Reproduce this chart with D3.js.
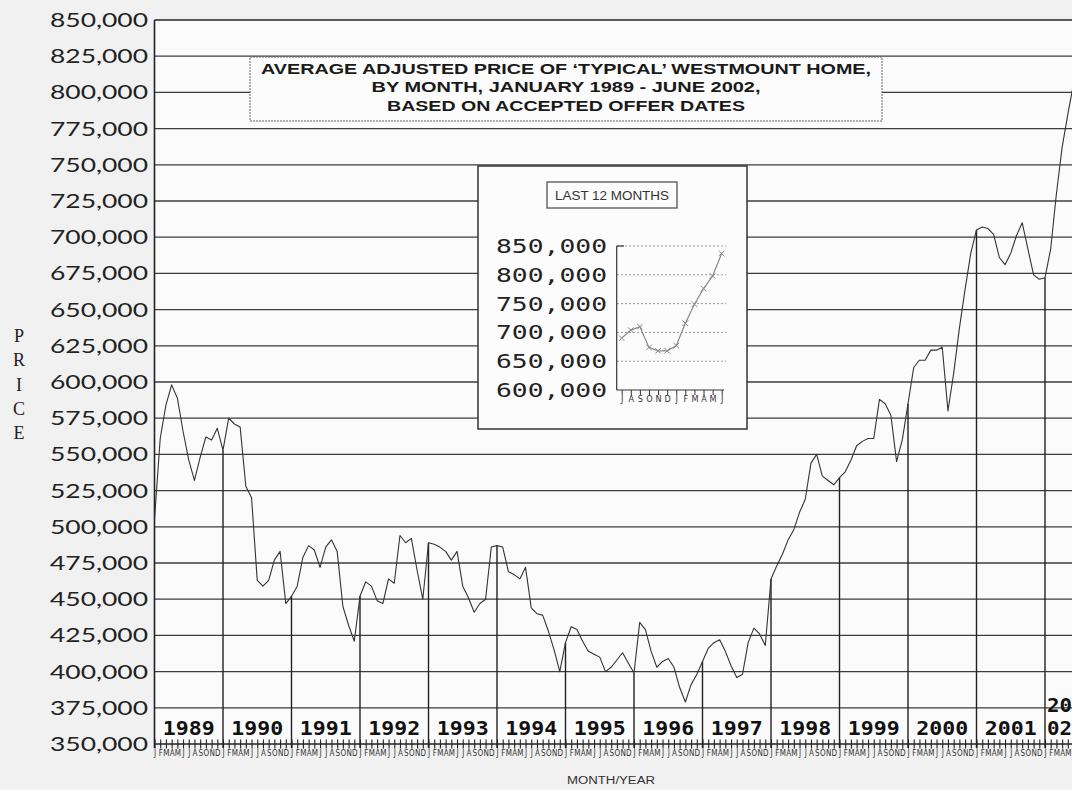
<!DOCTYPE html>
<html>
<head>
<meta charset="utf-8">
<script src="https://cdn.jsdelivr.net/npm/d3@7"></script>
<style>
html, body { margin: 0; padding: 0; background: #f1f1f1; }
svg { display: block; }
</style>
</head>
<body>
<div id="chart"></div>
<script>
var width = 1072,
    height = 790;

// month initials under the bottom axis
var monthInitials = ["J","F","M","A","M","J","J","A","S","O","N","D"];

// price gridlines / labels
var priceTicks = [350000, 375000, 400000, 425000, 450000, 475000, 500000, 525000, 550000,
                  575000, 600000, 625000, 650000, 675000, 700000, 725000, 750000, 775000,
                  800000, 825000, 850000];

var yearLabels = ["1989","1990","1991","1992","1993","1994","1995","1996","1997",
                  "1998","1999","2000","2001"];

// monthly adjusted price, Jan 1989 - Jun 2002
var prices = [
  505000, 561000, 584000, 598000, 589000, 566000, 546000, 532000, 548000, 562000, 560000, 568000, // 1989
  553000, 575000, 571000, 569000, 528000, 520000, 463000, 459000, 463000, 477000, 483000, 447000, // 1990
  452000, 459000, 479000, 487000, 484000, 472000, 486000, 491000, 483000, 445000, 432000, 421000, // 1991
  452000, 462000, 459000, 449000, 447000, 464000, 461000, 494000, 489000, 492000, 470000, 450000, // 1992
  489000, 488000, 486000, 483000, 477000, 483000, 459000, 451000, 441000, 447000, 450000, 486000, // 1993
  487000, 486000, 469000, 467000, 464000, 472000, 444000, 440000, 439000, 428000, 415000, 400000, // 1994
  420000, 431000, 429000, 421000, 414000, 412000, 410000, 400000, 403000, 408000, 413000, 406000, // 1995
  399000, 434000, 429000, 414000, 403000, 407000, 409000, 403000, 389000, 379000, 391000, 398000, // 1996
  407000, 416000, 420000, 422000, 414000, 404000, 396000, 398000, 420000, 430000, 426000, 418000, // 1997
  464000, 473000, 481000, 491000, 498000, 510000, 519000, 544000, 550000, 535000, 532000, 529000, // 1998
  534000, 538000, 546000, 556000, 559000, 561000, 561000, 588000, 585000, 577000, 545000, 560000, // 1999
  585000, 610000, 615000, 615000, 622000, 622000, 624000, 580000, 606000, 637000, 664000, 689000, // 2000
  705000, 707000, 706000, 702000, 686000, 681000, 689000, 701000, 710000, 692000, 674000, 671000, // 2001
  672000, 692000, 730000, 762000, 785000, 806000                                                  // 2002
];

// inset: last 12 months (Jul 2001 - Jun 2002)
var insetMonths = ["J","A","S","O","N","D","J","F","M","A","M","J"];
var insetPrices = [690000, 704000, 710000, 674000, 668000, 668000, 677000, 716000, 749000, 776000, 798000, 837000];
var insetTicks = [600000, 650000, 700000, 750000, 800000, 850000];

var titleLines = ["AVERAGE ADJUSTED PRICE OF \u2018TYPICAL\u2019 WESTMOUNT HOME,",
                  "BY MONTH, JANUARY 1989 - JUNE 2002,",
                  "BASED ON ACCEPTED OFFER DATES"];

var svg = d3.select("#chart").append("svg")
    .attr("width", width)
    .attr("height", height);

var plotLeft = 154.5, plotRight = 1090, plotTop = 20, plotBottom = 744;

var x = d3.scaleLinear().domain([0, 156]).range([plotLeft, 1045]);
var y = d3.scaleLinear().domain([350000, 850000]).range([plotBottom, plotTop]);

// plot background
svg.append("rect")
    .attr("x", plotLeft).attr("y", plotTop)
    .attr("width", plotRight - plotLeft).attr("height", plotBottom - plotTop)
    .attr("fill", "#fbfbfb");

// horizontal gridlines
svg.append("g").selectAll("line")
    .data(priceTicks.slice(1, -1))
  .enter().append("line")
    .attr("x1", plotLeft).attr("x2", plotRight)
    .attr("y1", d => y(d)).attr("y2", d => y(d))
    .attr("stroke", "#3c3c3c")
    .attr("stroke-width", 1.3);

// top border and left border
svg.append("line")
    .attr("x1", plotLeft).attr("x2", plotRight)
    .attr("y1", y(850000)).attr("y2", y(850000))
    .attr("stroke", "#222").attr("stroke-width", 1.6);
svg.append("line")
    .attr("x1", plotLeft).attr("x2", plotLeft)
    .attr("y1", plotTop).attr("y2", plotBottom + 4)
    .attr("stroke", "#222").attr("stroke-width", 1.6);

// y labels
svg.append("g").selectAll("text")
    .data(priceTicks)
  .enter().append("text")
    .attr("x", 148)
    .attr("y", d => y(d) + 7)
    .attr("text-anchor", "end")
    .attr("textLength", 98)
    .attr("lengthAdjust", "spacingAndGlyphs")
    .style("font-family", "Lato, 'Open Sans', sans-serif")
    .style("font-size", "20px")
    .style("fill", "#222")
    .text(d => d3.format(",")(d));

// PRICE written down the side
svg.append("g").selectAll("text")
    .data("PRICE".split(""))
  .enter().append("text")
    .attr("x", 19)
    .attr("y", (d, i) => 342 + i * 24.3)
    .attr("text-anchor", "middle")
    .style("font-family", "'Liberation Serif', 'DejaVu Serif', serif")
    .style("font-size", "18px")
    .style("fill", "#222")
    .text(d => d);

// bottom axis with a tick for every month
var xAxis = d3.axisBottom(x)
    .tickValues(d3.range(0, prices.length))
    .tickSizeInner(9)
    .tickSizeOuter(0)
    .tickPadding(2)
    .tickFormat(i => x(i) < width - 3 ? monthInitials[i % 12] : "");

var gx = svg.append("g")
    .attr("transform", "translate(0," + (plotBottom - 4.5) + ")")
    .call(xAxis);
gx.select(".domain").remove();
gx.selectAll(".tick line").attr("stroke", "#222").attr("stroke-width", 1.1);
gx.selectAll(".tick text")
    .style("font-family", "'DejaVu Sans Condensed', 'DejaVu Sans', sans-serif")
    .style("font-size", "8px")
    .style("fill", "#333");

svg.append("line")
    .attr("x1", plotLeft).attr("x2", plotRight)
    .attr("y1", plotBottom).attr("y2", plotBottom)
    .attr("stroke", "#222").attr("stroke-width", 1.4);

// drop lines at each January
var januaries = d3.range(12, prices.length, 12);
svg.append("g").selectAll("line")
    .data(januaries)
  .enter().append("line")
    .attr("x1", i => x(i)).attr("x2", i => x(i))
    .attr("y1", plotBottom + 4).attr("y2", i => y(prices[i]))
    .attr("stroke", "#222")
    .attr("stroke-width", 1.4);

// year labels
svg.append("g").selectAll("text")
    .data(yearLabels)
  .enter().append("text")
    .attr("x", (d, k) => x(k * 12 + 6))
    .attr("y", 735)
    .attr("text-anchor", "middle")
    .attr("textLength", 52)
    .attr("lengthAdjust", "spacingAndGlyphs")
    .style("font-family", "'DejaVu Sans Mono', monospace")
    .style("font-weight", "bold")
    .style("font-size", "20px")
    .style("fill", "#111")
    .text(d => d);

var lastYear = svg.append("g")
    .style("font-family", "'DejaVu Sans Mono', monospace")
    .style("font-weight", "bold")
    .style("font-size", "20px")
    .style("fill", "#111");
lastYear.append("text")
    .attr("x", x(156) + 2).attr("y", 712)
    .attr("textLength", 25).attr("lengthAdjust", "spacingAndGlyphs")
    .text("20");
lastYear.append("text")
    .attr("x", x(156) + 2).attr("y", 735)
    .attr("textLength", 25).attr("lengthAdjust", "spacingAndGlyphs")
    .text("02");

// the price line
svg.append("clipPath").attr("id", "plotclip")
  .append("rect")
    .attr("x", plotLeft).attr("y", plotTop)
    .attr("width", plotRight - plotLeft).attr("height", plotBottom - plotTop);

var line = d3.line()
    .x((d, i) => x(i))
    .y(d => y(d));

svg.append("path")
    .datum(prices)
    .attr("clip-path", "url(#plotclip)")
    .attr("fill", "none")
    .attr("stroke", "#333")
    .attr("stroke-width", 1.1)
    .attr("stroke-linejoin", "round")
    .attr("d", line);

// title box
svg.append("rect")
    .attr("x", 250).attr("y", 57)
    .attr("width", 632).attr("height", 64)
    .attr("fill", "#fcfcfc")
    .attr("stroke", "#666")
    .attr("stroke-dasharray", "2,1")
    .attr("stroke-width", 1);

var titleLengths = [610, 389, 358];
svg.append("g").selectAll("text")
    .data(titleLines)
  .enter().append("text")
    .attr("x", 566)
    .attr("y", (d, i) => [74, 92, 111][i])
    .attr("text-anchor", "middle")
    .attr("textLength", (d, i) => titleLengths[i])
    .attr("lengthAdjust", "spacingAndGlyphs")
    .style("font-family", "'Liberation Sans', Arial, sans-serif")
    .style("font-weight", "bold")
    .style("font-size", "15px")
    .style("fill", "#1a1a1a")
    .text(d => d);

// inset chart
var inset = svg.append("g");
inset.append("rect")
    .attr("x", 478).attr("y", 166)
    .attr("width", 269).attr("height", 263)
    .attr("fill", "#fcfcfc")
    .attr("stroke", "#333")
    .attr("stroke-width", 1.5);
inset.append("rect")
    .attr("x", 547).attr("y", 182)
    .attr("width", 130).attr("height", 26)
    .attr("fill", "none")
    .attr("stroke", "#444")
    .attr("stroke-width", 1.2);
inset.append("text")
    .attr("x", 612).attr("y", 200)
    .attr("text-anchor", "middle")
    .attr("textLength", 114)
    .attr("lengthAdjust", "spacingAndGlyphs")
    .style("font-family", "'Liberation Sans', Arial, sans-serif")
    .style("font-size", "12px")
    .style("fill", "#333")
    .text("LAST 12 MONTHS");

var ix = d3.scaleLinear().domain([0, 11]).range([621.7, 721.7]);
var iy = d3.scaleLinear().domain([600000, 850000]).range([390, 246]);

inset.append("g").selectAll("line")
    .data(insetTicks.slice(1))
  .enter().append("line")
    .attr("x1", 617).attr("x2", 726)
    .attr("y1", d => iy(d)).attr("y2", d => iy(d))
    .attr("stroke", "#999")
    .attr("stroke-dasharray", "2,2")
    .attr("stroke-width", 1);

inset.append("line")
    .attr("x1", 616.7).attr("x2", 616.7)
    .attr("y1", iy(850000)).attr("y2", iy(600000))
    .attr("stroke", "#333").attr("stroke-width", 1.2);
inset.append("line")
    .attr("x1", 616.7).attr("x2", 624)
    .attr("y1", iy(850000)).attr("y2", iy(850000))
    .attr("stroke", "#333").attr("stroke-width", 1.2);

var ixAxis = d3.axisBottom(ix)
    .tickValues(d3.range(0, insetMonths.length))
    .tickSizeInner(5)
    .tickSizeOuter(0)
    .tickPadding(1)
    .tickFormat(i => insetMonths[i]);
var gix = inset.append("g")
    .attr("transform", "translate(0," + iy(600000) + ")")
    .call(ixAxis);
gix.select(".domain").remove();
gix.selectAll(".tick line").attr("stroke", "#333");
gix.selectAll(".tick text")
    .style("font-family", "'DejaVu Sans Condensed', 'DejaVu Sans', sans-serif")
    .style("font-size", "9px")
    .style("fill", "#333");
inset.append("line")
    .attr("x1", 616.7).attr("x2", 724)
    .attr("y1", iy(600000)).attr("y2", iy(600000))
    .attr("stroke", "#333").attr("stroke-width", 1.2);

inset.append("g").selectAll("text")
    .data(insetTicks)
  .enter().append("text")
    .attr("x", 607)
    .attr("y", d => iy(d) + 7)
    .attr("text-anchor", "end")
    .attr("textLength", 111)
    .attr("lengthAdjust", "spacingAndGlyphs")
    .style("font-family", "'DejaVu Sans Mono', monospace")
    .style("font-size", "20px")
    .style("fill", "#222")
    .text(d => d3.format(",")(d));

inset.append("path")
    .datum(insetPrices)
    .attr("fill", "none")
    .attr("stroke", "#888")
    .attr("stroke-width", 1.2)
    .attr("d", d3.line().x((d, i) => ix(i)).y(d => iy(d)));

inset.append("g").selectAll("path")
    .data(insetPrices)
  .enter().append("path")
    .attr("transform", (d, i) => "translate(" + ix(i) + "," + iy(d) + ")")
    .attr("d", d3.symbol(d3.symbolTimes, 22))
    .attr("fill", "none")
    .attr("stroke", "#888")
    .attr("stroke-width", 1);

// x axis title
svg.append("text")
    .attr("x", 611).attr("y", 784)
    .attr("text-anchor", "middle")
    .attr("textLength", 88)
    .attr("lengthAdjust", "spacingAndGlyphs")
    .style("font-family", "'Liberation Sans', Arial, sans-serif")
    .style("font-size", "10px")
    .style("fill", "#333")
    .text("MONTH/YEAR");
</script>
</body>
</html>
